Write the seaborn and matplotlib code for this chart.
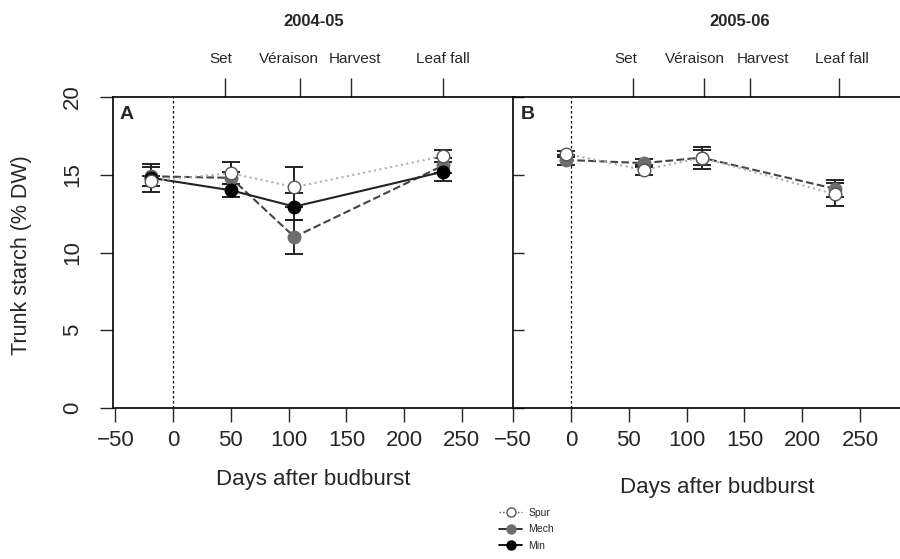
import numpy as np
import pandas as pd
import matplotlib
matplotlib.use("Agg")
import matplotlib.pyplot as plt
import matplotlib.transforms as mtransforms
from matplotlib.lines import Line2D
import seaborn as sns

# Panel A (2004-05)
days_a = [-19, 50, 105, 234]
spur_a = [14.6, 15.1, 14.2, 16.2]
spur_a_err = [0.3, 0.7, 1.3, 0.4]
mech_a = [14.9, 14.8, 11.0, 15.6]
mech_a_err = [0.6, 0.4, 1.1, 0.5]
min_a = [14.8, 14.0, 12.95, 15.2]
min_a_err = [0.9, 0.4, 0.85, 0.6]

# Panel B (2005-06)
days_b = [-4, 63, 113, 228]
spur_b = [16.35, 15.3, 16.1, 13.75]
spur_b_err = [0.2, 0.3, 0.7, 0.75]
mech_b = [15.95, 15.75, 16.1, 14.1]
mech_b_err = [0.35, 0.25, 0.5, 0.55]

# phenological stages (top axis)
stages = ["Set", "Véraison", "Harvest", "Leaf fall"]
stages_a = [45, 110, 154, 234]
stages_b = [54, 115, 155, 232]

sns.set_style("white")
plt.rcParams["font.family"] = ["Liberation Sans", "DejaVu Sans"]

fig = plt.figure(figsize=(9, 5.59), dpi=100)
ax_a = fig.add_axes([0.1256, 0.2701, 0.4467, 0.5564])
ax_b = fig.add_axes([0.570, 0.2701, 0.45, 0.5564])

styles = {
    "Spur": dict(ls=":", color="#b0b0b0", mfc="white", mec="#555555"),
    "Mech": dict(ls="--", color="#444444", mfc="#6e6e6e", mec="#6e6e6e"),
    "Min": dict(ls="-", color="#222222", mfc="black", mec="black"),
}


def draw(ax, x, y, err, name):
    st = styles[name]
    df = pd.DataFrame({"x": x, "y": y})
    ax.errorbar(x, y, yerr=err, fmt="none", ecolor="#222222", elinewidth=1.4,
                capsize=6.5, capthick=1.4, zorder=2)
    sns.lineplot(data=df, x="x", y="y", ax=ax, color=st["color"], linestyle=st["ls"],
                 lw=1.5, marker="o", markersize=9, markerfacecolor=st["mfc"],
                 markeredgecolor=st["mec"], markeredgewidth=1, zorder=3)


draw(ax_a, days_a, mech_a, mech_a_err, "Mech")
draw(ax_a, days_a, min_a, min_a_err, "Min")
draw(ax_a, days_a, spur_a, spur_a_err, "Spur")
draw(ax_b, days_b, mech_b, mech_b_err, "Mech")
draw(ax_b, days_b, spur_b, spur_b_err, "Spur")

# small pixel nudges of the stage labels, as in the original
nudges = {"A": [-4, -11, 4, -1], "B": [-8, -9, 13, 3]}

for ax, stg, lab in [(ax_a, stages_a, "A"), (ax_b, stages_b, "B")]:
    ax.axvline(0, color="black", ls=(0, (2, 2)), lw=0.9, zorder=1)
    ax.set_ylim(0, 20)
    ax.set_xticks([-50, 0, 50, 100, 150, 200, 250])
    ax.set_yticks([0, 5, 10, 15, 20])
    ax.tick_params(axis="x", direction="out", length=10, width=1, labelsize=16, pad=6,
                   bottom=True)
    ax.set_xlabel("Days after budburst", fontsize=16)
    ax.set_ylabel("")
    for s in ax.spines.values():
        s.set_color("black")
        s.set_linewidth(1.2)
    ax.text(0.015 if lab == "A" else 0.02, 0.97, lab, transform=ax.transAxes,
            fontsize=14, fontweight="bold", va="top", ha="left")
    top = ax.secondary_xaxis("top")
    top.set_xticks(stg)
    top.set_xticklabels(stages, fontsize=11)
    top.tick_params(direction="out", length=14, width=1, pad=8)
    top.spines["top"].set_visible(False)
    for t, dx in zip(top.get_xticklabels(), nudges[lab]):
        t.set_transform(t.get_transform() +
                        mtransforms.ScaledTranslation(dx / 100, 0, fig.dpi_scale_trans))

ax_a.set_xlim(-52, 296)
ax_b.set_xlim(-50, 300)
ax_a.tick_params(axis="y", direction="out", length=9.5, width=1, labelsize=16,
                 left=True, labelrotation=90, pad=12)
for t in ax_a.get_yticklabels():
    t.set_va("center")
ax_a.set_ylabel("Trunk starch (% DW)", fontsize=15.5)
ax_a.yaxis.set_label_coords(22 / 900, 1 - 255 / 559, transform=fig.transFigure)
ax_b.tick_params(axis="y", direction="in", length=8, width=1, left=True, labelleft=False)
ax_b.spines["right"].set_visible(False)
ax_a.xaxis.set_label_coords(313 / 900, 1 - 479 / 559, transform=fig.transFigure)
ax_b.xaxis.set_label_coords(717 / 900, 1 - 487 / 559, transform=fig.transFigure)
ax_a.xaxis.label.set_va("center")
ax_b.xaxis.label.set_va("center")
ax_a.yaxis.label.set_va("center")

fig.text(314 / 900, 1 - 22 / 559, "2004-05", ha="center", va="center",
         fontsize=12, fontweight="bold")
fig.text(740 / 900, 1 - 22 / 559, "2005-06", ha="center", va="center",
         fontsize=12, fontweight="bold")

handles = [
    Line2D([], [], ls=":", color="#555555", marker="o", mfc="white", mec="#555555",
           markersize=6.5, lw=1),
    Line2D([], [], ls="-", color="#222222", marker="o", mfc="#6e6e6e", mec="#6e6e6e",
           markersize=6.5, lw=1.3),
    Line2D([], [], ls="-", color="black", marker="o", mfc="black", mec="black",
           markersize=6.5, lw=1.3),
]
fig.legend(handles, ["Spur", "Mech", "Min"], loc="center", bbox_to_anchor=(0.585, 0.053),
           frameon=False, fontsize=7.5, handlelength=2.2, labelspacing=0.6,
           handletextpad=0.6)

fig.savefig("out.png", dpi=100)
